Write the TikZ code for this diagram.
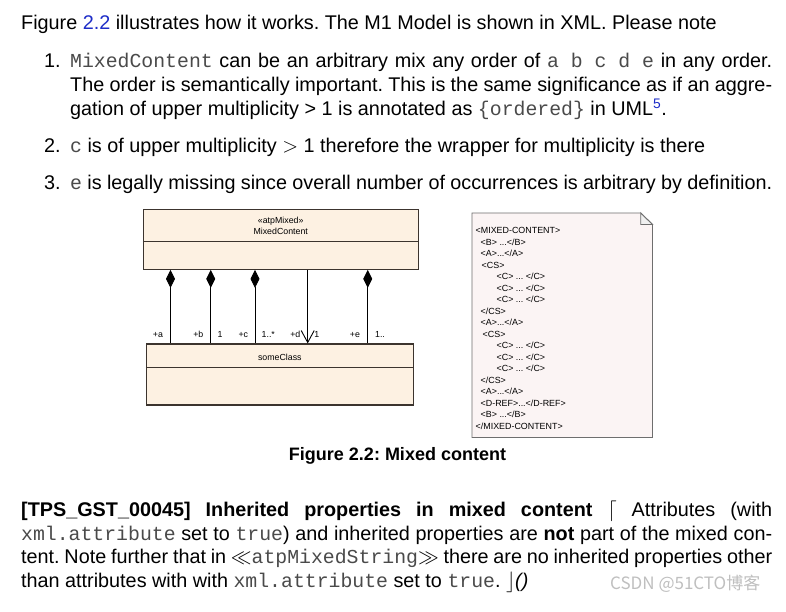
\documentclass[tikz,border=0pt]{standalone}
\usepackage{fontspec}
\setmainfont{Liberation Sans}
\setmonofont{Liberation Mono}[Color=4A4A4A]
\newfontfamily\cjkfont{Noto Sans CJK SC}
\usepackage{xcolor}
\usepackage{tikz}
\usetikzlibrary{arrows.meta, calc}
\frenchspacing

\definecolor{linkblue}{RGB}{30,45,200}
\definecolor{classfill}{RGB}{253,241,226}
\definecolor{classline}{RGB}{60,52,46}
\definecolor{notefill}{RGB}{251,244,244}
\definecolor{noteline}{RGB}{110,110,110}

\tikzset{
    bodytext/.style={anchor=base west, inner sep=0pt, font=\fontsize{19.8}{23.7}\selectfont},
    captext/.style={anchor=base, inner sep=0pt, font=\fontsize{18}{21}\selectfont\bfseries},
    classbox/.style={draw=classline, fill=classfill, line width=1.1pt, inner sep=0pt},
    classsep/.style={draw=classline, line width=1.1pt},
    compo/.style={line width=0.9pt, {Diamond[length=18pt, width=9pt]}-},
    navig/.style={line width=0.9pt, -{Straight Barb[length=12pt, width=13pt]}},
    umltext/.style={anchor=base, inner sep=0pt, font=\fontsize{8.8}{10.5}\selectfont},
    notebox/.style={draw=noteline, fill=notefill, line width=0.9pt},
    xmltext/.style={anchor=north west, inner sep=0pt, align=left, font=\fontsize{8.9}{11.5}\selectfont},
    watermark/.style={anchor=base west, inner sep=0pt, text=gray!50, font=\cjkfont\fontsize{17}{20}\selectfont}
}

\begin{document}
\begin{tikzpicture}[x=1pt, y=-1pt]
    \useasboundingbox[fill=white] (0,0) rectangle (786,611);
    % === TEXT ABOVE THE FIGURE ===
    \node[bodytext] (intro) at (21,29.3) {Figure \textcolor{linkblue}{2.2} illustrates how it works. The M1 Model is shown in XML. Please note};
    \node[bodytext] (num1) at (44,67.7) {1.};
    \node[bodytext] (item1a) at (70,67.7) {\makebox[702pt][s]{\texttt{MixedContent} can be an arbitrary mix any order of \texttt{a b c d e} in any order.}};
    \node[bodytext] (item1b) at (70,91.7) {\makebox[702pt][s]{The order is semantically important. This is the same significance as if an aggre-}};
    \node[bodytext] (item1c) at (70,115.7) {gation of upper multiplicity > 1 is annotated as \texttt{\{ordered\}} in UML\textsuperscript{\textcolor{linkblue}{5}}.};
    \node[bodytext] (num2) at (44,152.7) {2.};
    \node[bodytext] (item2) at (70,152.7) {\texttt{c} is of upper multiplicity $>$ 1 therefore the wrapper for multiplicity is there};
    \node[bodytext] (num3) at (44,189) {3.};
    \node[bodytext] (item3) at (70,189) {\makebox[702pt][s]{\texttt{e} is legally missing since overall number of occurrences is arbitrary by definition.}};
    %
    % === UML CLASSES ===
    \node[classbox, minimum width=274.7pt, minimum height=60pt] (mixed) at (280.7,239.3) {};
    \node[umltext] (stereo) at (280.7,223) {«atpMixed»};
    \node[umltext] (mixname) at (280.7,234) {MixedContent};
    \draw[classsep] ($(mixed.north west)+(0,33)$) -- ($(mixed.north east)+(0,33)$);
    \node[classbox, minimum width=267pt, minimum height=61pt] (some) at (279.8,374.5) {};
    \node[umltext] (somename) at (279.8,360) {someClass};
    \draw[classsep] ($(some.north west)+(0,23.7)$) -- ($(some.north east)+(0,23.7)$);
    % compositions a b c e, navigable d
    \foreach \n/\x in {a/170.5, b/210.7, c/255, e/367.7} {
        \coordinate (x\n) at (\x,0);
        \draw[compo] (mixed.south -| x\n) -- (some.north -| x\n);
    }
    \coordinate (xd) at (307.7,0);
    \draw[navig] (mixed.south -| xd) -- (some.north -| xd);
    % role names and multiplicities
    \node[umltext] (rolea) at (158,337) {+a};
    \node[umltext] (roleb) at (198.3,337) {+b};
    \node[umltext] (multb) at (220,337) {1};
    \node[umltext] (rolec) at (243.3,337) {+c};
    \node[umltext] (multc) at (268.3,337) {1..*};
    \node[umltext] (roled) at (295.3,337) {+d};
    \node[umltext] (multd) at (316.7,337) {1};
    \node[umltext] (rolee) at (355,337) {+e};
    \node[umltext] (multe) at (380,337) {1..};
    %
    % === XML NOTE ===
    \draw[notebox] (472,213) -- (640.7,213) -- (652.5,224.5) -- (652.5,437.5) -- (472,437.5) -- cycle;
    \draw[notebox, fill=gray!12] (640.7,213) -- (640.7,224.5) -- (652.5,224.5) -- cycle;
    \node[xmltext] (xml) at (475.5,227.3) {<MIXED-CONTENT>\\
        \hspace*{5pt}<B> ...</B>\\
        \hspace*{5pt}<A>...</A>\\
        \hspace*{6pt}<CS>\\
        \hspace*{21pt}<C> ... </C>\\
        \hspace*{21pt}<C> ... </C>\\
        \hspace*{21pt}<C> ... </C>\\
        \hspace*{5pt}</CS>\\
        \hspace*{5pt}<A>...</A>\\
        \hspace*{7pt}<CS>\\
        \hspace*{21pt}<C> ... </C>\\
        \hspace*{21pt}<C> ... </C>\\
        \hspace*{21pt}<C> ... </C>\\
        \hspace*{5pt}</CS>\\
        \hspace*{5pt}<A>...</A>\\
        \hspace*{5pt}<D-REF>...</D-REF>\\
        \hspace*{5pt}<B> ...</B>\\
        </MIXED-CONTENT>};
    %
    % === CAPTION AND REQUIREMENT ===
    \node[captext] (caption) at (397.5,460.7) {Figure 2.2: Mixed content};
    \node[bodytext] (req1) at (21,516) {\makebox[751pt][s]{\textbf{[TPS\_GST\_00045] Inherited properties in mixed content} $\lceil$ Attributes (with}};
    \node[bodytext] (req2) at (21,540) {\makebox[751pt][s]{\texttt{xml.attribute} set to \texttt{true}) and inherited properties are \textbf{not} part of the mixed con-}};
    \node[bodytext] (req3) at (21,563.5) {\makebox[751pt][s]{tent. Note further that in $\ll$\texttt{atpMixedString}$\gg$ there are no inherited properties other}};
    \node[bodytext] (req4) at (21,587.5) {than attributes with with \texttt{xml.attribute} set to \texttt{true}. $\rfloor$\textit{()}};
    \node[watermark] (mark) at (610,589) {CSDN @51CTO博客};
\end{tikzpicture}
\end{document}
